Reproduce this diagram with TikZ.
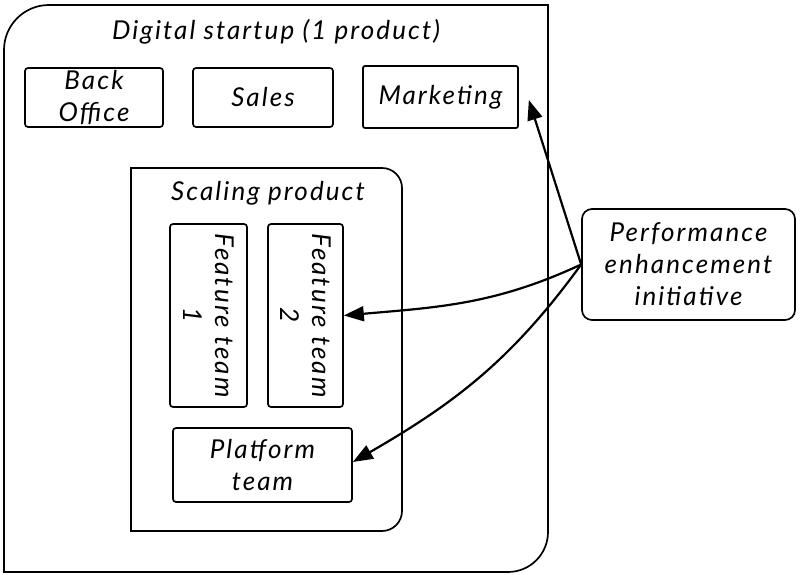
\documentclass[tikz,border=0pt]{standalone}
\usepackage{fontspec}
\setmainfont{Lato}[LetterSpace=8]
\usetikzlibrary{arrows.meta}
\begin{document}
\begin{tikzpicture}[x=1pt,y=1pt,
  every node/.style={font=\fontsize{26}{32}\selectfont\itshape},
  frame/.style={draw, line width=1.7pt},
  box/.style={draw, line width=1.7pt, inner sep=0pt, rounded corners=3pt, align=center},
  lbl/.style={align=center, inner sep=0pt},
  arr/.style={line width=2.2pt, -{Triangle[length=20pt,width=15pt]}}]
\useasboundingbox (0,0) rectangle (800,575);
% outer frame
\draw[frame] (548,570) -- (548,43) arc[start angle=0,end angle=-90,radius=40]
  -- (4,3) -- (4,525) arc[start angle=180,end angle=90,radius=45] -- cycle;
\node[lbl] (title) at (276,543) {Digital startup (1 product)};
% top row
\node[box, minimum width=138pt, minimum height=59pt] (bo) at (94,477.5) {Back\\Office};
\node[box, minimum width=140pt, minimum height=59pt] (sales) at (263,477.5) {Sales};
\node[box, rounded corners=2pt, minimum width=155pt, minimum height=62pt] (mkt) at (440.5,478) {Marketing};
% scaling product frame
\draw[frame] (131,44) -- (131,407) -- (382,407) arc[start angle=90,end angle=0,radius=20]
  -- (402,64) arc[start angle=0,end angle=-90,radius=20] -- cycle;
\node[lbl] (stitle) at (268,382) {Scaling product};
% feature teams
\node[box, minimum width=77pt, minimum height=183pt] (ft1) at (208.5,259.5) {};
\node[lbl, rotate=-90] (ft1t) at (ft1.center) {Feature team\\1};
\node[box, minimum width=75pt, minimum height=183pt] (ft2) at (305.5,259.5) {};
\node[lbl, rotate=-90] (ft2t) at (ft2.center) {Feature team\\2};
% platform
\node[box, minimum width=179pt, minimum height=74pt] (plat) at (262.5,110) {Platform\\team};
% initiative
\node[box, rounded corners=10pt, minimum width=213pt, minimum height=111pt] (pei) at (688.5,310.5) {Performance\\enhancement\\initiative};
% arrows
\draw[arr] (pei.west) -- ([xshift=10pt,yshift=-3pt]mkt.east);
\draw[arr] (pei.west) to[out=205,in=5] (ft2.east);
\draw[arr] (pei.west) to[out=234,in=30] ([yshift=3pt]plat.east);
\end{tikzpicture}
\end{document}
